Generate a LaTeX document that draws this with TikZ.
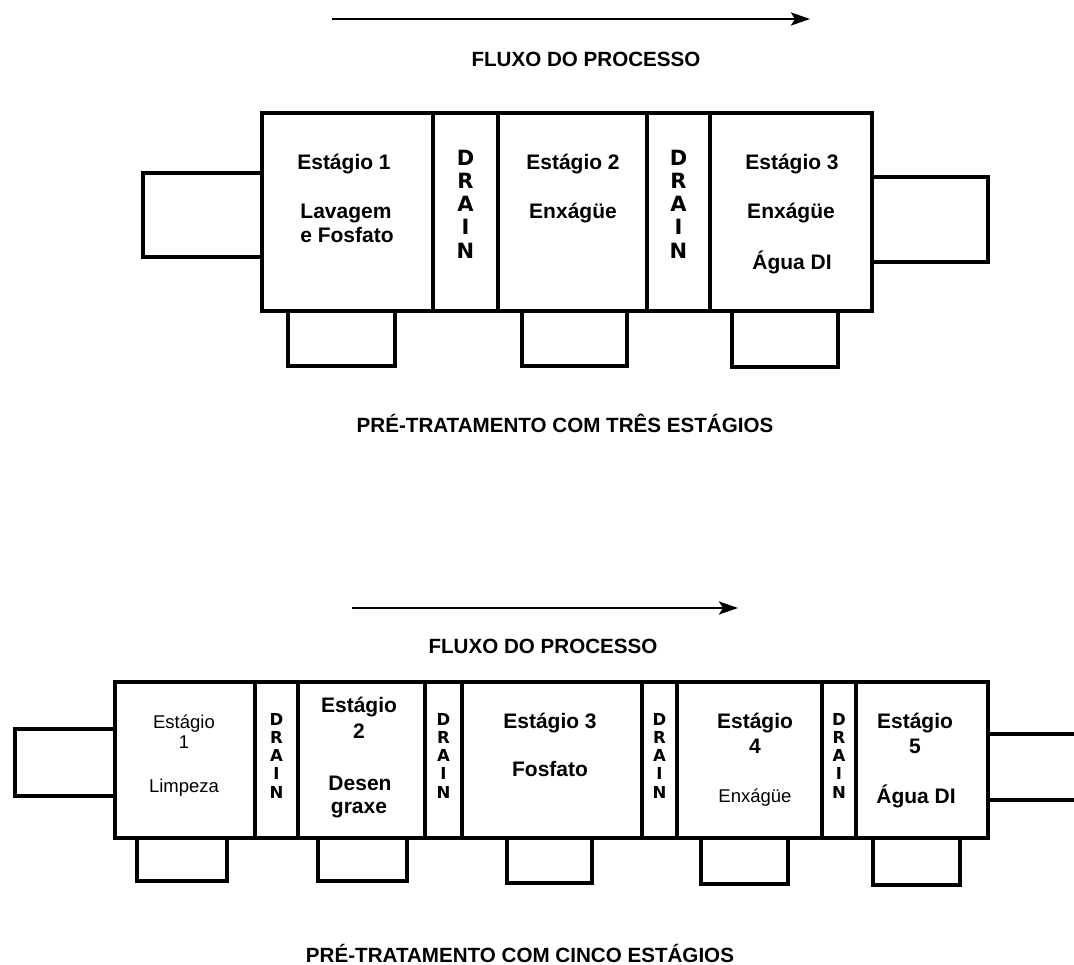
\documentclass[tikz,border=0pt]{standalone}
\usepackage{fontspec}
\setmainfont{Liberation Sans}
\newfontfamily\drainfont{DejaVu Sans}
\usetikzlibrary{arrows.meta}
\tikzset{
  wall/.style={line width=3.1pt, line join=miter, line cap=rect},
  lbl/.style={inner sep=0pt, anchor=base, font=\bfseries\fontsize{21}{25}\selectfont},
  lblr/.style={inner sep=0pt, anchor=base, font=\fontsize{18.5}{22}\selectfont},
  drainA/.style={inner sep=0pt, align=center, font=\drainfont\bfseries\fontsize{21}{23.25}\selectfont},
  drainB/.style={inner sep=0pt, align=center, font=\drainfont\bfseries\fontsize{16.5}{18.25}\selectfont},
  heading/.style={inner sep=0pt, anchor=base, font=\bfseries\fontsize{20.6}{24}\selectfont},
  flow/.style={line width=2.8pt, -{Stealth[length=19pt,width=13pt,inset=4pt]}},
}
\begin{document}
\begin{tikzpicture}[x=1pt,y=-1pt]
\fill[white] (0,0) rectangle (1074,965);
\useasboundingbox (0,0) rectangle (1074,965);

% ---------------- top diagram ----------------
\coordinate (a1s) at (332,19);
\coordinate (a1e) at (810,19);
\draw[flow] (a1s) -- (a1e);
\node[heading] (flux1) at (586,67) {FLUXO DO PROCESSO};

\draw[wall] (262,113) rectangle (872,311);
\draw[wall] (433,113) -- (433,311);
\draw[wall] (498,113) -- (498,311);
\draw[wall] (647,113) -- (647,311);
\draw[wall] (710,113) -- (710,311);
\draw[wall] (262,173) -- (143,173) -- (143,257) -- (262,257);
\draw[wall] (872,177) -- (988,177) -- (988,262) -- (872,262);
\draw[wall] (288,311) -- (288,366) -- (395,366) -- (395,311);
\draw[wall] (522,311) -- (522,366) -- (627,366) -- (627,311);
\draw[wall] (732,311) -- (732,367) -- (838,367) -- (838,311);

\node[lbl] (t1a) at (344,170) {Estágio 1};
\node[lbl] (t1b) at (346,219) {Lavagem};
\node[lbl] (t1c) at (347,243) {e Fosfato};
\node[drainA] (td1) at (465.5,204) {D\\R\\A\\I\\N};
\node[lbl] (t2a) at (573,170) {Estágio 2};
\node[lbl] (t2b) at (573,219) {Enxágüe};
\node[drainA] (td2) at (678.5,204) {D\\R\\A\\I\\N};
\node[lbl] (t3a) at (792,170) {Estágio 3};
\node[lbl] (t3b) at (791,219) {Enxágüe};
\node[lbl] (t3c) at (792,270) {Água DI};

\node[heading] (cap1) at (565,433) {PRÉ-TRATAMENTO COM TRÊS ESTÁGIOS};

% ---------------- bottom diagram ----------------
\coordinate (a2s) at (352,608);
\coordinate (a2e) at (738,608);
\draw[flow] (a2s) -- (a2e);
\node[heading] (flux2) at (543,653) {FLUXO DO PROCESSO};

\draw[wall] (115,682) rectangle (988,838);
\foreach \xx in {255,298,425,462,642,677,822,856}
  \draw[wall] (\xx,682) -- (\xx,838);
\draw[wall] (115,729) -- (15,729) -- (15,796) -- (115,796);
\draw[wall] (988,734) -- (1076,734);
\draw[wall] (988,800) -- (1076,800);
\draw[wall] (137,838) -- (137,881) -- (227,881) -- (227,838);
\draw[wall] (318,838) -- (318,881) -- (407,881) -- (407,838);
\draw[wall] (507,838) -- (507,883) -- (592,883) -- (592,838);
\draw[wall] (701,838) -- (701,884) -- (788,884) -- (788,838);
\draw[wall] (873,838) -- (873,885) -- (960,885) -- (960,838);

\node[lblr] (b1a) at (184,728) {Estágio};
\node[lblr] (b1b) at (184,748) {1};
\node[lblr] (b1c) at (184,792) {Limpeza};
\node[drainB] (bd1) at (276.5,755.5) {D\\R\\A\\I\\N};
\node[lbl] (b2a) at (359,712) {Estágio};
\node[lbl] (b2b) at (359,738) {2};
\node[lbl] (b2c) at (360,790) {Desen};
\node[lbl] (b2d) at (359,813) {graxe};
\node[drainB] (bd2) at (443.5,755.5) {D\\R\\A\\I\\N};
\node[lbl] (b3a) at (550,728) {Estágio 3};
\node[lbl] (b3b) at (550,776) {Fosfato};
\node[drainB] (bd3) at (659.5,755.5) {D\\R\\A\\I\\N};
\node[lbl] (b4a) at (755,728) {Estágio};
\node[lbl] (b4b) at (755,753) {4};
\node[lblr] (b4c) at (755,802) {Enxágüe};
\node[drainB] (bd4) at (839,755.5) {D\\R\\A\\I\\N};
\node[lbl] (b5a) at (915,728) {Estágio};
\node[lbl] (b5b) at (915,753) {5};
\node[lbl] (b5c) at (916,803) {Água DI};

\node[heading] (cap2) at (520,962) {PRÉ-TRATAMENTO COM CINCO ESTÁGIOS};
\end{tikzpicture}
\end{document}
